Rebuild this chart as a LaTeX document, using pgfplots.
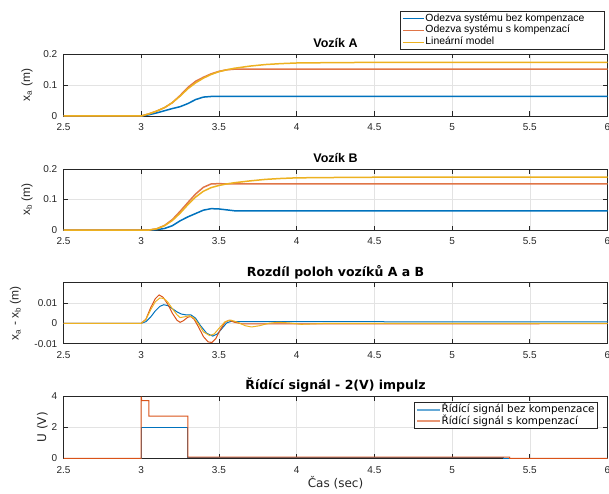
\documentclass[border=0pt]{standalone}
\usepackage{fontspec}
\setmainfont{Liberation Sans}
\newfontfamily\dejavu{DejaVu Sans}
\usepackage{pgfplots}
\pgfplotsset{compat=1.18}
\definecolor{mlblue}{rgb}{0,0.447,0.741}
\definecolor{mlorange}{rgb}{0.85,0.325,0.098}
\definecolor{mlyellow}{rgb}{0.929,0.694,0.125}
\definecolor{axgray}{gray}{0.15}
\pgfplotsset{
  mlaxis/.style={
    scale only axis, width=544pt,
    xmin=2.5, xmax=6, xtick={2.5,3,3.5,4,4.5,5,5.5,6},
    clip=false,
    axis line style={axgray, line width=0.6pt},
    tick style={axgray, line width=0.6pt},
    major tick length=4.5pt,
    tick align=inside,
    grid=major, grid style={gray!22, line width=0.5pt},
    scaled y ticks=false,
    /pgf/number format/assume math mode=true,
    ticklabel style={font=\fontsize{10}{12}\selectfont, text=axgray},
    xticklabel style={anchor=base, yshift=-14.7pt},
    yticklabel style={xshift=-2.7pt},
    title style={anchor=base, at={(axis description cs:0.5,1)}, yshift=0.5pt, font=\bfseries\fontsize{12.5}{14}\selectfont},
    label style={font=\fontsize{12}{14}\selectfont, text=axgray},
  },
  lbig/.style={line width=1.5pt},
  lsmall/.style={line width=1pt},
}
\begin{document}
\begin{tikzpicture}
\useasboundingbox (0pt,0pt) rectangle (609pt,493pt);
\clip (0pt,0pt) rectangle (609pt,493pt);
% ---------------- Panel 1
\begin{axis}[mlaxis, at={(63.5pt,377pt)}, anchor=south west, height=62pt,
  ymin=0, ymax=0.2, ytick={0,0.1,0.2},
  title={Vozík A},
  ylabel={x\textsubscript{a} (m)},
  ylabel style={at={(axis description cs:-0.067,0.5)}, anchor=center},
  legend style={at={(axis description cs:0.9945,1.6935)}, anchor=north east,
    draw=axgray, line width=0.6pt, fill=white,
    font=\fontsize{10.4}{12}\selectfont, inner xsep=2pt, inner ysep=1.5pt, row sep=0.8pt,
    nodes={inner sep=0.8pt, text height=7.4pt, text depth=2.1pt, anchor=west}},
  legend cell align=left,
  legend image code/.code={\draw[#1, line width=1.3pt] (0pt,0pt) -- (21pt,0pt);},
]
\addplot[draw=mlblue, lbig] coordinates {(2.5,0) (3.0,0) (3.05,0.004) (3.1,0.010) (3.15,0.017) (3.2,0.024) (3.25,0.030) (3.3,0.040) (3.35,0.053) (3.4,0.061) (3.45,0.063) (6,0.063)};
\addplot[draw=mlorange!80!white, lbig] coordinates {(2.5,0) (3.0,0) (3.05,0.007) (3.1,0.016) (3.15,0.027) (3.2,0.043) (3.25,0.066) (3.3,0.092) (3.35,0.112) (3.4,0.125) (3.45,0.136) (3.5,0.144) (3.55,0.149) (3.6,0.151) (6,0.151)};
\addplot[draw=mlyellow, lbig] coordinates {(2.5,0) (3.0,0) (3.05,0.007) (3.1,0.016) (3.15,0.027) (3.2,0.043) (3.25,0.064) (3.3,0.088) (3.35,0.107) (3.4,0.122) (3.45,0.134) (3.5,0.143) (3.55,0.149) (3.6,0.154) (3.7,0.161) (3.8,0.166) (3.9,0.169) (4.0,0.171) (4.2,0.172) (4.5,0.173) (6,0.173)};
\addlegendentry{Odezva systému bez kompenzace\rule{17pt}{0pt}}
\addlegendentry{Odezva systému s kompenzací}
\addlegendentry{Lineární model}
\end{axis}
% ---------------- Panel 2
\begin{axis}[mlaxis, at={(63.5pt,263pt)}, anchor=south west, height=61pt,
  ymin=0, ymax=0.2, ytick={0,0.1,0.2},
  title={Vozík B},
  ylabel={x\textsubscript{b} (m)},
  ylabel style={at={(axis description cs:-0.067,0.5)}, anchor=center},
]
\addplot[draw=mlblue, lbig] coordinates {(2.5,0) (3.05,0) (3.1,0.001) (3.15,0.005) (3.2,0.014) (3.25,0.030) (3.3,0.043) (3.35,0.054) (3.4,0.065) (3.45,0.070) (3.5,0.069) (3.55,0.066) (3.6,0.063) (6,0.063)};
\addplot[draw=mlorange!80!white, lbig] coordinates {(2.5,0) (3.05,0) (3.1,0.004) (3.15,0.015) (3.2,0.034) (3.25,0.061) (3.3,0.090) (3.35,0.118) (3.4,0.140) (3.45,0.151) (3.5,0.152) (3.55,0.151) (6,0.151)};
\addplot[draw=mlyellow, lbig] coordinates {(2.5,0) (3.05,0) (3.1,0.004) (3.15,0.014) (3.2,0.031) (3.25,0.055) (3.3,0.083) (3.35,0.108) (3.4,0.127) (3.45,0.139) (3.5,0.146) (3.55,0.151) (3.6,0.155) (3.7,0.161) (3.8,0.166) (3.9,0.169) (4.0,0.171) (4.2,0.172) (4.5,0.173) (6,0.173)};
\end{axis}
% ---------------- Panel 3
\begin{axis}[mlaxis, at={(63.5pt,149.3pt)}, anchor=south west, height=61pt,
  ymin=-0.01, ymax=0.0199, ytick={-0.01,0,0.01},
  yticklabel style={/pgf/number format/fixed, /pgf/number format/precision=2},
  title={\dejavu\bfseries Rozdíl poloh vozíků A a B},
  ylabel={x\textsubscript{a} - x\textsubscript{b} (m)},
  ylabel style={at={(axis description cs:-0.088,0.5)}, anchor=center},
]
\addplot[draw=mlblue, lsmall] coordinates {(2.5,0) (3.0,0) (3.03,0.0008) (3.06,0.003) (3.09,0.006) (3.12,0.0083) (3.145,0.0091) (3.17,0.0087) (3.2,0.0072) (3.23,0.0056) (3.26,0.0045) (3.29,0.0041) (3.32,0.0041) (3.35,0.0025) (3.38,-0.001) (3.42,-0.0048) (3.46,-0.0063) (3.49,-0.0052) (3.52,-0.0025) (3.55,0.0002) (3.58,0.001) (3.62,0.0008) (6,0.0007)};
\addplot[draw=mlorange, lsmall] coordinates {(2.5,0) (3.0,0) (3.03,0.002) (3.06,0.0075) (3.09,0.012) (3.115,0.0139) (3.14,0.0128) (3.17,0.0095) (3.2,0.005) (3.23,0.0015) (3.25,0.0005) (3.27,0.0012) (3.3,0.003) (3.32,0.0033) (3.34,0.002) (3.37,-0.002) (3.4,-0.0065) (3.43,-0.0091) (3.455,-0.0094) (3.48,-0.0075) (3.51,-0.003) (3.54,0.0006) (3.565,0.0015) (3.6,0.0005) (3.65,-0.0003) (3.8,-0.0003) (6,-0.0002)};
\addplot[draw=mlyellow, lsmall] coordinates {(2.5,0) (3.0,0) (3.03,0.0018) (3.06,0.0065) (3.09,0.0105) (3.12,0.0124) (3.145,0.0122) (3.17,0.0105) (3.2,0.0072) (3.23,0.0042) (3.25,0.0028) (3.28,0.0032) (3.31,0.0037) (3.34,0.0025) (3.37,-0.0005) (3.4,-0.0042) (3.44,-0.006) (3.47,-0.0052) (3.5,-0.0025) (3.54,0.0008) (3.575,0.0016) (3.62,0.0005) (3.67,-0.0012) (3.71,-0.0018) (3.76,-0.0012) (3.82,0.0) (3.88,0.0005) (3.95,0.0002) (4.03,-0.0005) (4.1,-0.0003) (4.2,0) (6,0)};
\end{axis}
% ---------------- Panel 4
\begin{axis}[mlaxis, at={(63.5pt,34.7pt)}, anchor=south west, height=62pt,
  ymin=0, ymax=4, ytick={0,2,4},
  title={\dejavu\bfseries Řídící signál - 2(V) impulz},
  xlabel={\dejavu Čas (sec)},
  xlabel style={at={(axis description cs:0.5,0)}, anchor=base, yshift=-29pt},
  ylabel={\dejavu U (V)},
  ylabel style={at={(axis description cs:-0.039,0.5)}, anchor=center},
  legend style={at={(axis description cs:0.982,0.908)}, anchor=north east,
    draw=axgray, line width=0.6pt, fill=white,
    font=\dejavu\fontsize{10.4}{12}\selectfont, inner xsep=2pt, inner ysep=1.5pt, row sep=0.5pt,
    nodes={inner sep=0.8pt, text height=7.6pt, text depth=2.2pt, anchor=west}},
  legend cell align=left,
  legend image code/.code={\draw[#1, line width=2pt, opacity=0.6] (0pt,0pt) -- (22.6pt,0pt);},
]
\addplot[draw=mlblue, lsmall] coordinates {(2.5,0) (3.0,0) (3.0,2) (3.3,2) (3.3,0.03) (5.33,0.03) (5.33,0) (6,0)};
\addplot[draw=mlorange, lsmall] coordinates {(2.5,0) (3.0,0) (3.0,3.98) (3.004,3.72) (3.05,3.72) (3.05,2.72) (3.3,2.72) (3.3,0.07) (5.37,0.07) (5.37,0) (6,0)};
\addlegendentry{Řídící signál bez kompenzace}
\addlegendentry{Řídící signál s kompenzací}
\end{axis}
\end{tikzpicture}
\end{document}
